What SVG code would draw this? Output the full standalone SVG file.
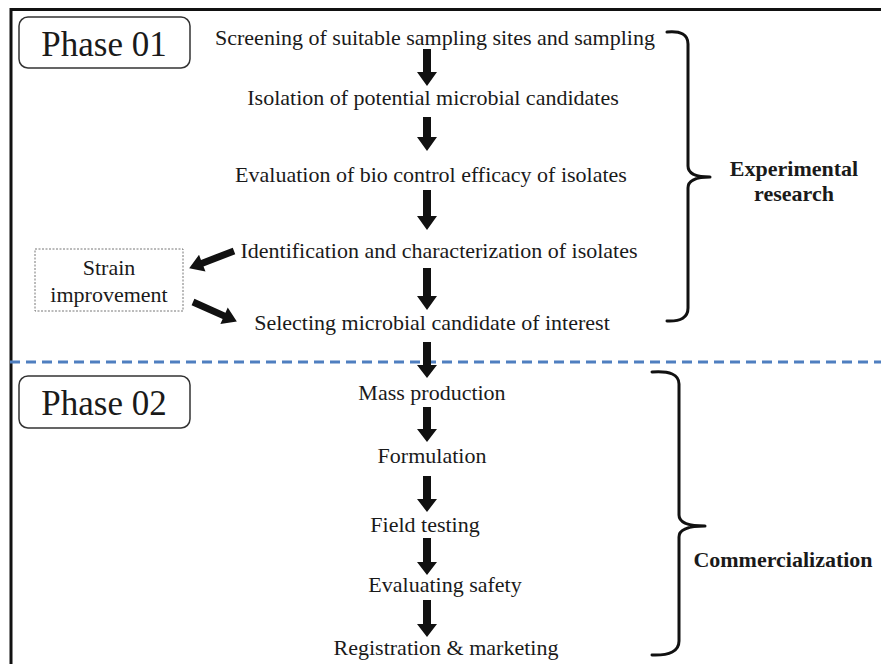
<svg xmlns="http://www.w3.org/2000/svg" width="881" height="664" viewBox="0 0 881 664">
<style>
.t{font-family:"Liberation Serif","Times New Roman",serif;fill:#1a1a1a;text-anchor:middle}
.s{font-size:22px}
.b{font-size:22px;font-weight:bold}
.ph{font-size:35px}
.box{fill:#fff;stroke:#333;stroke-width:1.5}
.brace{fill:none;stroke:#111;stroke-width:3;stroke-linecap:round;stroke-linejoin:round}
.arr{fill:#111}
</style>
<rect width="881" height="664" fill="#fff"/>
<g id="frame">
<line x1="10" y1="9.5" x2="881" y2="9.5" stroke="#111" stroke-width="3"/>
<line x1="11" y1="8" x2="11" y2="664" stroke="#111" stroke-width="3"/>
<line x1="10" y1="362" x2="881" y2="362" stroke="#4f7fc0" stroke-width="3" stroke-dasharray="10 6"/>
</g>
<g id="phase01"><rect class="box" x="19" y="17" width="171" height="51" rx="9"/><text class="t ph" x="104" y="56">Phase 01</text></g>
<g id="phase02"><rect class="box" x="19" y="376" width="171" height="52" rx="9"/><text class="t ph" x="104" y="415">Phase 02</text></g>
<g id="n1"><text class="t s" x="435" y="45">Screening of suitable sampling sites and sampling</text></g>
<g id="n2"><text class="t s" x="433" y="105">Isolation of potential microbial candidates</text></g>
<g id="n3"><text class="t s" x="431" y="182">Evaluation of bio control efficacy of isolates</text></g>
<g id="n4"><text class="t s" x="439" y="258">Identification and characterization of isolates</text></g>
<g id="n5"><text class="t s" x="432" y="330">Selecting microbial candidate of interest</text></g>
<g id="strain"><rect x="35" y="249" width="148" height="62" fill="#fff" stroke="#777" stroke-width="1" stroke-dasharray="2 1.5"/>
<text class="t s" x="109" y="275">Strain</text><text class="t s" x="109" y="302">improvement</text></g>
<g id="n6"><text class="t s" x="432" y="400">Mass production</text></g>
<g id="n7"><text class="t s" x="432" y="463">Formulation</text></g>
<g id="n8"><text class="t s" x="425" y="532">Field testing</text></g>
<g id="n9"><text class="t s" x="445" y="592">Evaluating safety</text></g>
<g id="n10"><text class="t s" x="446" y="655">Registration &amp; marketing</text></g>
<g id="exp"><path class="brace" d="M667,32 Q688,30 688,44 V166 Q688,177 710,177 Q688,177 688,188 V308 Q688,322 667,321"/>
<text class="t b" x="794" y="176">Experimental</text><text class="t b" x="794" y="201">research</text></g>
<g id="com"><path class="brace" d="M652,372 Q679,370 679,384 V515 Q679,526 705,526 Q679,526 679,537 V641 Q679,656 652,655"/>
<text class="t b" x="783" y="567">Commercialization</text></g>
<g id="connectors" class="arr">
<g transform="translate(427,0)">
<path d="M-4,49 V72 H-10 L0,86 L10,72 H4 V49 Z"/>
<path d="M-4,117 V137 H-10 L0,151 L10,137 H4 V117 Z"/>
<path d="M-4,190 V216 H-10 L0,230 L10,216 H4 V190 Z"/>
<path d="M-4,268 V296 H-10 L0,310 L10,296 H4 V268 Z"/>
<path d="M-4,342 V365 H-10 L0,378 L10,365 H4 V342 Z"/>
<path d="M-4,407 V429 H-10 L0,442 L10,429 H4 V407 Z"/>
<path d="M-4,476 V499 H-10 L0,512 L10,499 H4 V476 Z"/>
<path d="M-4,538 V562 H-10 L0,575 L10,562 H4 V538 Z"/>
<path d="M-4,600 V624 H-10 L0,637 L10,624 H4 V600 Z"/>
</g>
<path d="M0,-3.5 H-34 V-9 L-48,0 L-34,9 V3.5 H0 Z" transform="translate(234,251) rotate(-21)"/>
<path d="M0,-3.5 H34 V-9 L48,0 L34,9 V3.5 H0 Z" transform="translate(193,302) rotate(24)"/>
</g>
</svg>
